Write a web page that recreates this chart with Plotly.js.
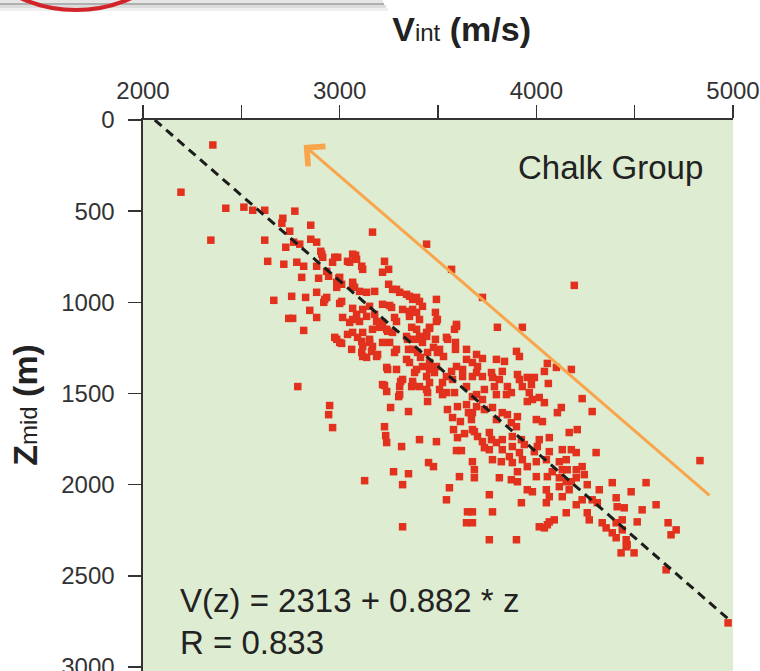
<!DOCTYPE html>
<html><head><meta charset="utf-8">
<script src="https://cdn.plot.ly/plotly-3.0.1.min.js"></script>
<style>html,body{margin:0;padding:0;background:#fff;}#chart{width:760px;height:671px;}</style>
</head><body><div id="chart"></div>
<script>
// Interval velocity (m/s) vs mid-depth (m), grouped by region
const vintA = [2355,2193,2421,2513,2558,2619,2772,2345,2619,2711,
 2706,2746,2853,2766,2726,2797,2853,2883,2904,3167,
 3442,2634,2716,2782,2817,2883,2914,2964,2990,3051,
 3081,3112,3228,3218,3249,2807,2893,2995,3010,3066,
 3137,3178,3249,3289,3340,3391,2665,2756,2827,2883,
 2919,2934,3000,3066,3086,3117,3152,3218,3254,3320,
 3355,3406,3487,3492,2741,2761,2848,2883,2817,3015,
 3051,3101,3188,3218,3289,3492,2975,3010,3066,3117,
 3152,3218,3244,3340,3391,3442,3487,3117,3188,3244,
 3289,3340,3371,3391,3457,3508];
const zmidA = [137,396,484,478,495,495,500,659,659,539,
 566,610,577,670,698,681,654,670,720,615,
 681,775,791,780,802,802,753,780,753,780,
 742,802,775,835,819,863,868,868,901,907,
 945,940,901,929,956,973,989,967,973,945,
 1000,973,1006,1033,1066,1039,1022,1011,1017,1039,
 1050,995,1055,984,1088,1088,1044,1083,1154,1083,
 1110,1105,1105,1110,1105,1105,1192,1225,1165,1165,
 1220,1220,1159,1187,1148,1187,1203,1297,1297,1368,
 1258,1313,1258,1368,1330,1258];
const vintB = [3569,2909,2975,3066,3086,3040,3117,2934,2944,2985,
 3000,2985,3066,3076,3101,3269,3305,3355,3371,3421,
 3010,2924,3066,3137,3178,3264,3279,3371,3391,3355,
 3406,3497,3457,3594,3584,3366,3406,3442,3371,3406,
 3421,3345,3350,3396,3411,3447,3477,3497,3528,3549,
 3589,3589,3645,3696,3645,3675,3625,3594,3569,3543,
 3523,3574,3625,3675,3645,3584,3543,3492,3482,3457,
 3421,3442,3457,3406,3355,3381,3371,3320,3305,3305,
 3366,3239,3279,3254,3269,3239,3203,3167,3091,3112,
 3152,3167,3117,3112,3162,3193,3137,3040,2985,3000,
 3061,3289,3218,3239,3447,3508];
const zmidB = [819,736,753,736,764,775,819,830,857,890,
 863,918,890,918,940,929,945,967,984,1022,
 995,984,1094,1077,1066,1028,1083,1039,1055,1077,
 1094,1094,1137,1132,1148,1137,1187,1165,1203,1203,
 1220,1203,1258,1275,1302,1275,1247,1275,1297,1203,
 1220,1258,1258,1286,1313,1330,1368,1352,1379,1407,
 1440,1423,1407,1407,1462,1495,1495,1352,1385,1368,
 1352,1407,1440,1462,1330,1385,1434,1423,1462,1506,
 1462,1357,1275,1220,1165,1148,1137,1148,1192,1214,
 1203,1242,1242,1275,1269,1286,1302,1176,1203,1220,
 1258,1368,1451,1489,1495,1478];
const vintC = [3726,4193,3802,3929,3457,3594,3543,3726,3797,3838,3899,3914,4056,4102,4178,4041];
const zmidC = [973,907,1137,1137,1143,1121,1192,1308,1313,1324,1269,1297,1335,1357,1368,1379];
const vintD = [3701,3827,3696,3726,3772,3777,3812,3904,3914,3954,
 3990,3929,3975,4061,3853,3787,3736,3696,3797,3848,3873,3964,4015,4233];
const zmidD = [1352,1379,1385,1407,1385,1412,1423,1396,1423,1412,
 1412,1462,1451,1445,1462,1462,1478,1506,1506,1506,1495,1495,1522,1528];
const vintE = [3675,3696,3675,3670,3726,3954,3980,4041,4127,4107,
 4284,3736,3777,3827,3853,3904,3797,3873,3899,4000,
 4031,3685,3701,3726,3761,3772,3797,3827,3878,3924,
 3939,4015,4066,4167,4208,4304,3736,3761,3827,3878,
 3914,4005,3990,4066,4132,4178,4203,3675,3777,3822,
 3863,3878,3929,3954,4000,4051,4117,4152,4157,4203,
 4233,4244,4081,4056,4132,3685,3685,3812,3873,3904,
 3904,4000,4117,4152,4178,4203,4259,4320,4386,3954,
 3980,4051,4066,4117,4132,4167,4203,4233,4284,4310,
 4406,4411,4447,3761,3924,4051,3777,3675,4152,4259,
 4269,4335,4355,4406,4437,4437,4386,4406,4457,4015,
 4056,4066,4091,4041,3761,3899,3675,4457];
const zmidE = [1517,1572,1605,1643,1533,1544,1533,1550,1577,1605,
 1599,1588,1577,1605,1616,1627,1643,1660,1682,1643,
 1654,1709,1736,1764,1714,1753,1769,1753,1736,1753,
 1780,1753,1742,1714,1698,1824,1797,1808,1808,1791,
 1824,1791,1819,1819,1808,1808,1824,1874,1863,1874,
 1846,1879,1863,1901,1874,1863,1874,1863,1918,1918,
 1901,1945,1929,1956,1918,1918,1962,1962,1973,1929,
 1984,1956,1962,1984,1984,1962,2000,2028,1989,2028,
 2039,2028,2066,2011,2066,2028,2110,2083,2083,2099,
 2072,2121,2127,2055,2099,2099,2149,2149,2154,2154,
 2193,2209,2237,2209,2193,2248,2264,2291,2302,2231,
 2220,2204,2193,2237,2302,2302,2209,2341];
const vintF = [4832,4558,4482,4538,4609,4513,4670,4711,4685,4462,
 4431,4497,4660,4975,3320,3650,3645,3558,3543,3609,
 3350,3320,3452,3477,3406,3492,3315,3350,3447];
const zmidF = [1868,1989,2039,2138,2110,2204,2209,2248,2275,2330,
 2374,2374,2467,2758,2231,2149,2209,2017,2083,1956,
 1940,2000,1879,1901,1753,1764,1791,1599,1544];
const vintG = [2949,2944,2964,3127,3300,3259,3228,3234,3239,3274,
 3579,3599,3635,3594,3619,3548,3574,3599,3645,3523,
 3655,3614,3675,2787,3228,3310,3371,3442];
const zmidG = [1566,1616,1687,1978,1517,1577,1682,1731,1769,1929,
 1698,1742,1720,1813,1813,1588,1632,1572,1561,1506,
 1605,1654,1698,1462,1456,1434,1456,1478];

// Trend line as drawn and the orange arrow (tail -> head)
const fitV = [2060, 4990];
const fitZ = [0, 2750];
const arrowV = [4888, 2817];
const arrowZ = [2066, 137];

const xTickVals = [2000,2500,3000,3500,4000,4500,5000];
const xTickText = ['2000','','3000','','4000','','5000'];
const yTickVals = [0,500,1000,1500,2000,2500,3000];
const yTickText = ['0','500','1000','1500','2000','2500','3000'];

const labelGroup = 'Chalk Group';
const labelEq = 'V(z) = 2313 + 0.882 * z';
const labelR = 'R = 0.833';

const vint = [].concat(vintA, vintB, vintC, vintD, vintE, vintF, vintG);
const zmid = [].concat(zmidA, zmidB, zmidC, zmidD, zmidE, zmidF, zmidG);

const FONT = 'Liberation Sans, Arial, Helvetica, sans-serif';
const NB = '&nbsp;';

const traces = [
  {x: vint, y: zmid, type: 'scatter', mode: 'markers',
   marker: {symbol: 'square', size: 7.5, color: '#e2321e', line: {width: 0}}, hoverinfo: 'skip'},
  {x: fitV, y: fitZ, type: 'scatter', mode: 'lines',
   line: {color: '#1c1c1c', width: 3, dash: '9px,6px'}, hoverinfo: 'skip'}
];

// helpers to place the decorative slide fragment in the top-left margin (pixel -> paper)
const px = v => (v - 143) / 590;
const py = v => (671 - v) / 551;

const layout = {
  width: 760, height: 671,
  margin: {l: 143, r: 27, t: 120, b: 0, pad: 0},
  paper_bgcolor: '#ffffff',
  plot_bgcolor: '#deecd1',
  showlegend: false,
  font: {family: FONT, color: '#333333'},
  xaxis: {
    side: 'top', range: [2000, 5000], tickmode: 'array', tickvals: xTickVals, ticktext: xTickText,
    ticks: 'outside', ticklen: 13, tickwidth: 1.6, tickcolor: '#333',
    showline: true, linecolor: '#333', linewidth: 1.6, showgrid: false, zeroline: false,
    tickfont: {family: FONT, size: 24, color: '#333'}, ticklabelstandoff: -3,
    ticklabeloverflow: 'allow',
    title: {text: NB.repeat(5) + 'V<span style="font-size:24px;font-weight:normal">int</span> (m/s)',
            font: {family: FONT, size: 34, color: '#222', weight: 'bold'}, standoff: 25}
  },
  yaxis: {
    range: [3022, 0], tickmode: 'array', tickvals: yTickVals, ticktext: yTickText,
    ticks: 'outside', ticklen: 13, tickwidth: 1.6, tickcolor: '#333',
    showline: true, linecolor: '#333', linewidth: 1.6, showgrid: false, zeroline: false,
    tickfont: {family: FONT, size: 24, color: '#333'}, ticklabelstandoff: 9,
    ticklabeloverflow: 'allow',
    title: {text: 'Z<span style="font-size:24px;font-weight:normal">mid</span> (m)' + NB.repeat(2),
            font: {family: FONT, size: 34, color: '#222', weight: 'bold'}, standoff: 13}
  },
  annotations: [
    {x: 4375, y: 263, xref: 'x', yref: 'y', text: labelGroup, showarrow: false,
     xanchor: 'center', yanchor: 'middle', font: {family: FONT, size: 33, color: '#222'}},
    {x: 2178, y: 2633, xref: 'x', yref: 'y', text: labelEq, showarrow: false,
     xanchor: 'left', yanchor: 'middle', font: {family: FONT, size: 33, color: '#222'}},
    {x: 2178, y: 2864, xref: 'x', yref: 'y', text: labelR, showarrow: false,
     xanchor: 'left', yanchor: 'middle', font: {family: FONT, size: 33, color: '#222'}},
    {x: arrowV[1], y: arrowZ[1], ax: arrowV[0], ay: arrowZ[0], xref: 'x', yref: 'y',
     axref: 'x', ayref: 'y', text: '', showarrow: true, arrowhead: 4, arrowsize: 1.7,
     arrowwidth: 3, arrowcolor: '#f8a54c', standoff: 0}
  ],
  shapes: [
    {type: 'rect', xref: 'paper', yref: 'paper', x0: px(-5), x1: px(383), y0: py(3), y1: py(-8),
     fillcolor: '#e6e6e6', line: {width: 0}, layer: 'above'},
    {type: 'rect', xref: 'paper', yref: 'paper', x0: px(-5), x1: px(384), y0: py(5), y1: py(3),
     fillcolor: '#969696', opacity: 0.75, line: {width: 0}, layer: 'above'},
    {type: 'rect', xref: 'paper', yref: 'paper', x0: px(-5), x1: px(386), y0: py(8), y1: py(5),
     fillcolor: '#c0c0c0', opacity: 0.55, line: {width: 0}, layer: 'above'},
    {type: 'rect', xref: 'paper', yref: 'paper', x0: px(-5), x1: px(388), y0: py(11), y1: py(8),
     fillcolor: '#e0e0e0', opacity: 0.5, line: {width: 0}, layer: 'above'},
    {type: 'circle', xref: 'paper', yref: 'paper', x0: px(-59), x1: px(211), y0: py(10), y1: py(-260),
     fillcolor: 'rgba(0,0,0,0)', line: {color: '#d2232a', width: 4}, layer: 'above'}
  ]
};

Plotly.newPlot('chart', traces, layout, {displayModeBar: false, staticPlot: true});
</script>
</body></html>
